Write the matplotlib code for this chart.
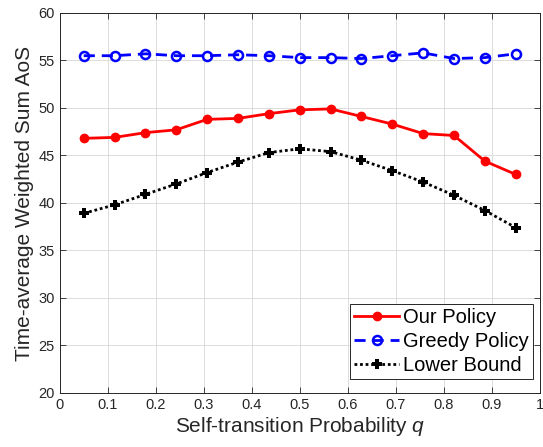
import matplotlib.pyplot as plt
import numpy as np

q = np.linspace(0.05, 0.95, 15)
our_policy = [46.8, 46.9, 47.4, 47.7, 48.8, 48.9, 49.4, 49.8, 49.9, 49.1, 48.3, 47.3, 47.1, 44.4, 43.0]
greedy_policy = [55.5, 55.5, 55.7, 55.5, 55.5, 55.6, 55.5, 55.3, 55.3, 55.2, 55.5, 55.8, 55.2, 55.3, 55.7]
lower_bound = [38.9, 39.8, 40.9, 42.0, 43.2, 44.3, 45.3, 45.7, 45.4, 44.5, 43.4, 42.2, 40.8, 39.2, 37.4]

plt.rcParams.update({
    "font.family": ["Liberation Sans", "DejaVu Sans"],
    "mathtext.fontset": "custom",
    "mathtext.it": "Liberation Sans:italic",
    "xtick.direction": "in", "ytick.direction": "in",
    "xtick.top": True, "ytick.right": True,
})

fig = plt.figure(figsize=(5.43, 4.47), dpi=100)
ax = fig.add_axes([0.11, 0.121, 0.884, 0.85])

ax.plot(q, our_policy, color="red", lw=2, marker="o", ms=6, label="Our Policy")
ax.plot(q, greedy_policy, color="blue", lw=2, ls=(0, (4, 2.5)), marker="o", ms=6.5,
        mfc="none", mew=1.8, label="Greedy Policy")
ax.plot(q, lower_bound, color="black", lw=2, ls=(0, (1, 1)), marker="P", ms=7,
        mew=0, label="Lower Bound")

ax.set_xlim(0, 1)
ax.set_ylim(20, 60)
ax.set_xticks(np.arange(0, 1.01, 0.1))
ax.set_xticklabels(["0", "0.1", "0.2", "0.3", "0.4", "0.5", "0.6", "0.7", "0.8", "0.9", "1"])
ax.set_yticks(np.arange(20, 61, 5))
ax.tick_params(labelsize=10.5, colors="#262626", length=4, width=0.6)
ax.grid(True, color="#dcdcdc", lw=0.7)
for s in ax.spines.values():
    s.set_color("#262626")
    s.set_linewidth(0.7)

ax.set_xlabel("Self-transition Probability $q$", fontsize=15, color="#262626", labelpad=2)
ax.set_ylabel("Time-average Weighted Sum AoS", fontsize=15, color="#262626", labelpad=3)

leg = ax.legend(loc="lower right", bbox_to_anchor=(0.985, 0.037), fontsize=14.5,
                fancybox=False, framealpha=1, edgecolor="#262626", borderpad=0.2,
                labelspacing=0.25, handlelength=2.2, handletextpad=0.2,
                borderaxespad=0)
leg.get_frame().set_linewidth(0.7)

fig.savefig("out.png", dpi=100)
